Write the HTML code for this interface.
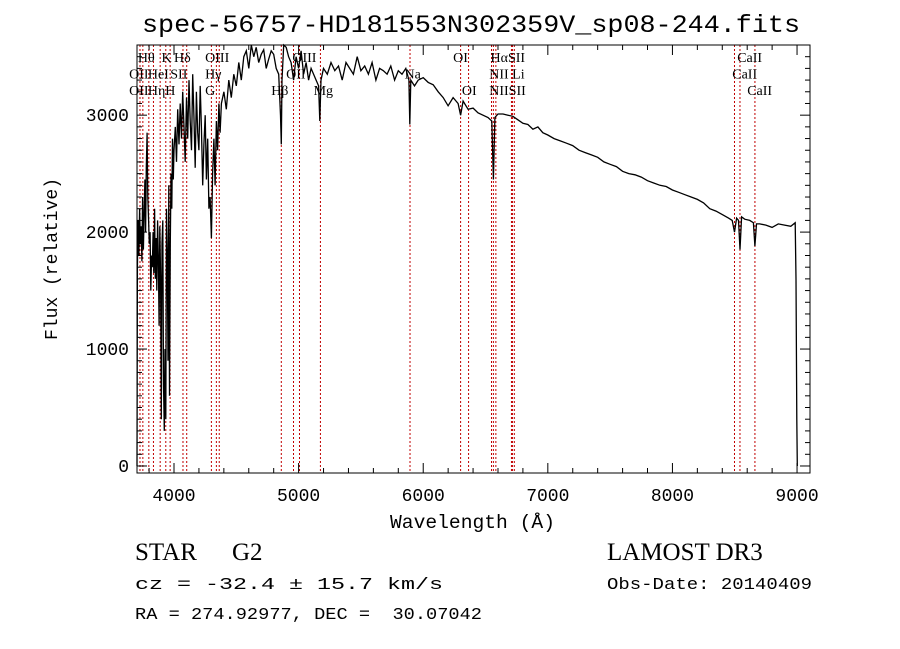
<!DOCTYPE html>
<html><head><meta charset="utf-8"><style>
body{margin:0;background:#fff;}
svg{display:block;}
.t{font-family:"Liberation Serif",serif;fill:#000;}
.m{font-family:"Liberation Mono",monospace;fill:#000;}
</style></head><body>
<svg id="chart" width="900" height="649" viewBox="0 0 900 649" xmlns="http://www.w3.org/2000/svg">
<rect width="900" height="649" fill="#fff"/>
<text class="m" x="142" y="32" textLength="658" lengthAdjust="spacingAndGlyphs" style="font-size:25px">spec-56757-HD181553N302359V_sp08-244.fits</text>
<g id="lines"></g>
<g id="labels"></g>
<path id="spec" fill="none" stroke="#000" stroke-width="1.3"/>
<rect x="137" y="45" width="673" height="428" fill="none" stroke="#000" stroke-width="1"/>
<g id="ticks"></g>
<text class="m" x="390" y="528" textLength="165" lengthAdjust="spacingAndGlyphs" style="font-size:19px">Wavelength (Å)</text>
<text class="m" transform="translate(57,259) rotate(-90)" text-anchor="middle" style="font-size:18px">Flux (relative)</text>
<text class="t" x="135" y="560" style="font-size:25px">STAR</text>
<text class="t" x="232" y="560" style="font-size:25px">G2</text>
<text class="t" x="607" y="560" style="font-size:25px">LAMOST DR3</text>
<text class="m" x="135" y="589" textLength="308" lengthAdjust="spacingAndGlyphs" style="font-size:17px">cz = -32.4 ± 15.7 km/s</text>
<text class="m" x="607" y="589" textLength="205" lengthAdjust="spacingAndGlyphs" style="font-size:17px">Obs-Date: 20140409</text>
<text class="m" x="135" y="619" textLength="347" lengthAdjust="spacingAndGlyphs" style="font-size:17px;white-space:pre" xml:space="preserve">RA = 274.92977, DEC =  30.07042</text>
</svg>
<script>
const wave=[3703,3706,3712,3718,3724,3730,3736,3742,3748,3754,
3760,3766,3772,3778,3784,3790,3796,3802,3808,3814,
3820,3826,3832,3838,3844,3850,3856,3862,3868,3874,
3880,3886,3892,3898,3904,3910,3916,3922,3928,3934,
3940,3946,3952,3958,3964,3970,3976,3982,3988,3994,
4000,4010,4020,4030,4040,4050,4060,4070,4080,4090,
4100,4110,4120,4130,4140,4150,4160,4170,4180,4190,
4200,4210,4220,4230,4240,4250,4260,4270,4280,4290,
4300,4310,4320,4330,4340,4350,4360,4370,4380,4400,
4420,4440,4460,4480,4500,4520,4540,4560,4580,4600,
4620,4640,4660,4680,4700,4720,4740,4760,4780,4800,
4820,4840,4855,4861,4867,4880,4900,4920,4940,4960,
4980,5000,5020,5040,5060,5080,5100,5120,5140,5160,
5170,5180,5200,5230,5260,5290,5320,5350,5380,5410,
5440,5470,5500,5530,5560,5590,5620,5650,5680,5710,
5740,5770,5800,5830,5860,5885,5892,5900,5930,5960,
6000,6040,6080,6120,6160,6200,6240,6280,6300,6320,
6360,6400,6440,6480,6520,6550,6563,6575,6600,6640,
6680,6720,6760,6800,6840,6880,6920,6960,7000,7050,
7100,7150,7200,7250,7300,7350,7400,7450,7500,7550,
7600,7650,7700,7750,7800,7850,7900,7950,8000,8050,
8100,8150,8200,8250,8300,8350,8400,8450,8480,8498,
8515,8530,8542,8555,8580,8620,8650,8662,8675,8700,
8750,8800,8850,8900,8950,8985,8992,8998,9002];
const flux=[0,1700,2100,1800,2200,1900,2050,1750,2300,1850,
2150,2450,2000,2550,2850,2300,2100,1900,2000,1500,
1800,1700,2000,1650,2200,1600,1950,1500,2100,1800,
1200,2050,1600,400,1900,2100,700,300,1000,400,
2200,1800,900,2400,600,1900,2500,2200,2800,2450,
2700,2900,2600,3050,2750,3100,2800,3200,2900,2600,
3150,2800,3300,2950,2700,3350,3000,2550,3200,2850,
2700,3250,2900,2400,2750,3000,2450,2800,2200,2300,
1950,2500,2800,2400,2950,2700,3100,2850,3100,3200,
3050,3300,3150,3350,3250,3450,3300,3500,3550,3400,
3600,3500,3580,3450,3520,3560,3400,3480,3550,3520,
3400,3350,3000,2750,3300,3600,3580,3500,3450,3300,
3500,3400,3550,3350,3450,3300,3400,3350,3300,3250,
2950,3300,3400,3350,3450,3380,3420,3300,3450,3400,
3350,3500,3380,3420,3350,3450,3300,3400,3380,3350,
3420,3300,3380,3350,3400,3300,2920,3300,3250,3300,
3320,3280,3260,3200,3150,3080,3150,3100,3000,3120,
3050,3060,3020,3000,2980,2950,2450,2980,3010,3010,
3000,2990,2960,2930,2920,2880,2900,2850,2830,2800,
2780,2760,2740,2700,2680,2660,2640,2600,2580,2560,
2520,2500,2490,2470,2440,2420,2400,2390,2360,2340,
2320,2300,2280,2250,2200,2180,2150,2120,2100,2000,
2120,2100,1850,2130,2110,2100,2080,1880,2070,2070,
2060,2040,2070,2060,2050,2080,1600,400,0];
const lineWaves=[3727,3750,3798,3835,3889,3934,3969,4072,4102,4300,4340,4363,4861,4959,5007,5175,5894,6300,6364,6548,6563,6583,6708,6716,6731,8498,8542,8662];
const lineLabels=["Hθ","K","Hδ","OIII","OIII","OI","HαSII","CaII","OII","HeI","SII","Hγ","OII","Na","NII Li","CaII","OII","Hη","H","G","Hβ","Mg","OI","NIISII","CaII"];
const lineLabelWaves=[3710,3900,4000,4250,4950,6240,6540,8520,3640,3790,3970,4250,4900,5850,6530,8480,3640,3790,3930,4250,4780,5120,6310,6530,8600];
const lineLabelRows=[0,0,0,0,0,0,0,0,1,1,1,1,1,1,1,1,2,2,2,2,2,2,2,2,2];
const xTicks=[4000,5000,6000,7000,8000,9000];
const yTicks=[0,1000,2000,3000];

const X0=137,X1=810,Y0=473,Y1=45,W0=3703,W1=9104,F0=-60,F1=3600;
const sx=w=>X0+(w-W0)/(W1-W0)*(X1-X0);
const sy=f=>Y0-(f-F0)/(F1-F0)*(Y0-Y1);
const NS="http://www.w3.org/2000/svg";
function mk(tag,parent){const e=document.createElementNS(NS,tag);document.getElementById(parent).appendChild(e);return e;}

lineWaves.forEach(w=>{const l=mk('line','lines');


l.setAttribute('x1',sx(w));l.setAttribute('x2',sx(w));l.setAttribute('y1',Y1);l.setAttribute('y2',Y0);
l.setAttribute('stroke','#c00000');l.setAttribute('stroke-width','1');l.setAttribute('stroke-dasharray','2,2');});

lineLabels.forEach((s,i)=>{const t=mk('text','labels');


t.setAttribute('class','t');t.setAttribute('style','font-size:14px');t.setAttribute('x',sx(lineLabelWaves[i]));t.setAttribute('y',62+lineLabelRows[i]*16.5);t.textContent=s;});

let d='';wave.forEach((w,i)=>{d+=(i?'L':'M')+sx(w).toFixed(1)+','+sy(flux[i]).toFixed(1);});
document.getElementById('spec').setAttribute('d',d);

for(let w=3800;w<=9100;w+=200){const maj=w%1000===0;
 [[Y0,Y0-(maj?10:5)],[Y1,Y1+(maj?10:5)]].forEach(p=>{const l=mk('line','ticks');
 
 
 l.setAttribute('x1',sx(w));l.setAttribute('x2',sx(w));l.setAttribute('y1',p[0]);l.setAttribute('y2',p[1]);l.setAttribute('stroke','#000');});}
for(let f=0;f<=3600;f+=100){const maj=f%1000===0;
 [[X0,X0+(maj?10:5)],[X1,X1-(maj?10:5)]].forEach(p=>{const l=mk('line','ticks');
 
 
 l.setAttribute('y1',sy(f));l.setAttribute('y2',sy(f));l.setAttribute('x1',p[0]);l.setAttribute('x2',p[1]);l.setAttribute('stroke','#000');});}
xTicks.forEach(w=>{const t=mk('text','ticks');
 
 
 t.setAttribute('class','m');t.setAttribute('style','font-size:18px');t.setAttribute('text-anchor','middle');
 t.setAttribute('x',sx(w));t.setAttribute('y',501);t.textContent=w;});
yTicks.forEach(f=>{const t=mk('text','ticks');
 
 
 t.setAttribute('class','m');t.setAttribute('style','font-size:18px');t.setAttribute('text-anchor','end');
 t.setAttribute('x',129);t.setAttribute('y',sy(f)+6);t.textContent=f;});
</script>
</body></html>
